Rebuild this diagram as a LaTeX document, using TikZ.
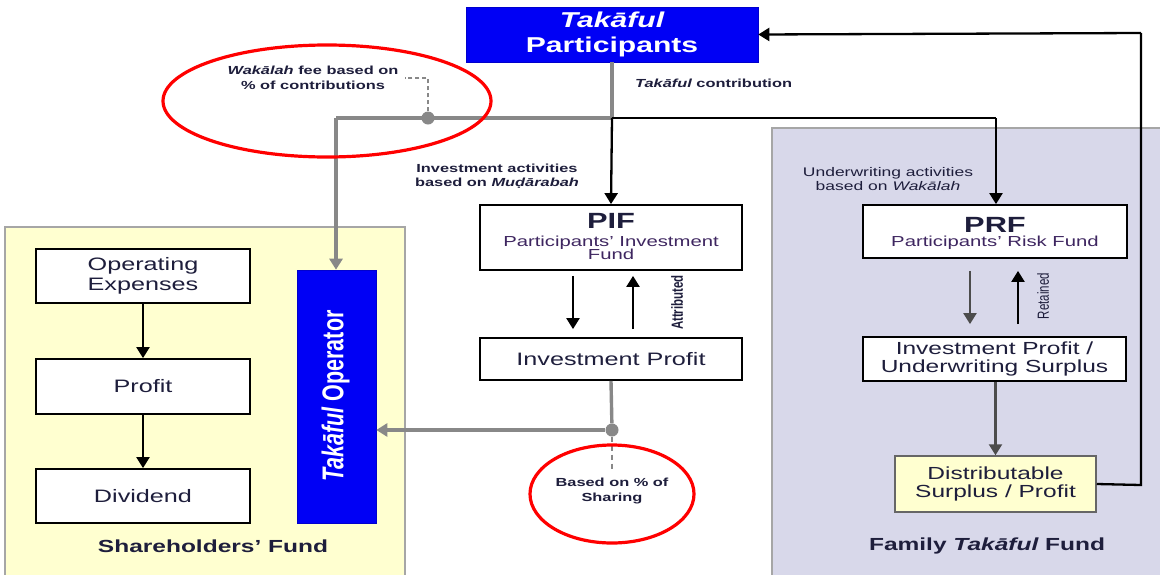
\documentclass[tikz,border=0pt]{standalone}
\usepackage{fontspec}
\setmainfont{Liberation Sans}
\usepackage{graphicx}
\usetikzlibrary{arrows.meta,calc}
\definecolor{opblue}{RGB}{0,0,245}
\definecolor{shyellow}{RGB}{255,255,208}
\definecolor{famlav}{RGB}{216,216,234}
\definecolor{linegray}{RGB}{136,136,136}
\definecolor{txt}{RGB}{30,30,60}
\definecolor{subtxt}{RGB}{62,38,96}
\newcommand\sx[1]{\scalebox{1.4}[1]{#1}}
\newcommand\sy[1]{\scalebox{1}[1.4]{#1}}
\tikzset{
  box/.style={draw=black, line width=1.8pt, fill=white, inner sep=0pt, align=center,
    font=\fontsize{18}{21}\selectfont, text=txt},
  bluebox/.style={fill=opblue, draw=blue!80!black, line width=0.6pt, inner sep=0pt,
    text=white, align=center},
  blk/.style={line width=2.3pt, draw=black},
  gry/.style={line width=3.4pt, draw=linegray},
  arr/.style={-{Triangle[length=11pt,width=13pt]}},
  lbl/.style={font=\fontsize{11.7}{14.5}\selectfont\bfseries, text=txt, align=center, inner sep=0pt},
  fundlbl/.style={font=\fontsize{17.5}{20}\selectfont\bfseries, text=txt, inner sep=0pt},
  redring/.style={draw=red, line width=3.2pt},
  dot/.style={circle, fill=linegray, inner sep=0pt, minimum size=13pt},
  plain/.style={inner sep=0pt, text=txt}
}
\begin{document}
\begin{tikzpicture}[x=1pt,y=-1pt]
\useasboundingbox (0,0) rectangle (1160,574);
\fill[white] (0,0) rectangle (1160,574);
% regions
\draw[draw=gray!70, fill=shyellow, line width=1.8pt] (5,227) rectangle (405,585);
\draw[draw=gray!70, fill=famlav, line width=1.8pt] (772,128) rectangle (1172,585);

% main boxes
\node[bluebox, minimum width=292pt, minimum height=55pt, font=\fontsize{21.5}{25}\selectfont\bfseries]
  (tp) at (612,34.5) {\sx{\itshape Takāful}\\\sx{Participants}};
\node[box, minimum width=262pt, minimum height=65pt] (pif) at (611,237.5) {};
\node[plain, anchor=base, font=\fontsize{22}{24}\selectfont\bfseries] (piftitle) at (611,228) {\sx{PIF}};
\node[plain, anchor=base, text=subtxt, font=\fontsize{14.5}{16}\selectfont] (pifsub) at (611,246.5) {\sx{Participants' Investment}};
\node[plain, anchor=base, text=subtxt, font=\fontsize{14.5}{16}\selectfont] (pifsub2) at (611,259) {\sx{Fund}};
\node[box, minimum width=262pt, minimum height=42pt] (ip) at (611,359) {\sx{Investment Profit}};

\node[box, minimum width=264pt, minimum height=53pt] (prf) at (995,231.5) {};
\node[plain, anchor=base, font=\fontsize{22}{24}\selectfont\bfseries] (prftitle) at (995,232) {\sx{PRF}};
\node[plain, anchor=base, text=subtxt, font=\fontsize{14.5}{16}\selectfont] (prfsub) at (995,246.5) {\sx{Participants' Risk Fund}};
\node[box, minimum width=263pt, minimum height=44pt, font=\fontsize{17.5}{18.5}\selectfont] (ipus) at (994.5,359) {\sx{Investment Profit /}\\\sx{Underwriting Surplus}};
\node[box, fill=shyellow, draw=gray!80!black, line width=1.5pt, minimum width=201pt, minimum height=56pt, font=\fontsize{17.5}{18.5}\selectfont] (dist) at (995.5,484) {\sx{Distributable}\\\sx{Surplus / Profit}};

\node[box, minimum width=214pt, minimum height=54pt, font=\fontsize{18}{20.5}\selectfont] (opex) at (143,276) {\sx{Operating}\\\sx{Expenses}};
\node[box, minimum width=214pt, minimum height=55pt] (prof) at (143,386.5) {\sx{Profit}};
\node[box, minimum width=214pt, minimum height=54pt] (divd) at (143,496) {\sx{Dividend}};

\node[bluebox, minimum width=79pt, minimum height=253pt] (op) at (336.5,396.5) {};
\node[rotate=90, inner sep=0pt, text=white, font=\fontsize{21.5}{24}\selectfont\bfseries] (optext) at (335.5,396) {\sy{\itshape Takāful\upshape\ Operator}};

% coordinates
\coordinate (j1) at (612,118);
\coordinate (jl) at (336,118);
\coordinate (jr) at (996,118);
\coordinate (dtop) at (428,78);
\coordinate (dleft) at (405,78);
\coordinate (d2down) at (612,470);
\coordinate (rc1) at (1141,485);
\coordinate (rc2) at (1141,33);
\node[dot] (d1) at (428,118) {};
\node[dot] (d2) at (612,430) {};

% connectors
\draw[gry] (tp.south) -- (j1);
\draw[gry] (j1) -- (jl);
\draw[gry, arr] (jl) -- (op.north -| jl);
\draw[blk, arr] (j1) -- (pif.north);
\draw[blk] (j1) -- (jr);
\draw[blk, arr] (jr) -- (prf.north -| jr);
\draw[linegray, line width=1.8pt, dash pattern=on 4pt off 3pt] (d1) -- (dtop) -- (dleft);

\draw[blk, arr, shorten <=5pt, shorten >=8pt] (pif.south -| 573,0) -- (ip.north -| 573,0);
\draw[blk, arr, shorten <=8pt, shorten >=5pt] (ip.north -| 633,0) -- (pif.south -| 633,0);
\draw[gry] (ip.south) -- (d2);
\draw[gry, arr] (d2) -- (op.east |- d2);
\draw[linegray, line width=1.8pt, dash pattern=on 5pt off 4pt] (d2) -- (d2down);

\draw[line width=2.3pt, draw=black!70, arr, shorten <=12pt, shorten >=12pt] (prf.south -| 970,0) -- (ipus.north -| 970,0);
\draw[blk, arr, shorten <=12pt, shorten >=12pt] (ipus.north -| 1018,0) -- (prf.south -| 1018,0);
\draw[line width=2.3pt, draw=black!70, arr] (ipus.south -| dist.north) -- (dist.north);
\draw[blk] (dist.east) -- (rc1) -- (rc2);
\draw[blk, arr] (rc2) -- (tp.east);

\draw[blk, arr] (opex.south) -- (prof.north);
\draw[blk, arr] (prof.south) -- (divd.north);

% labels
\node[lbl] (wak) at (313,78) {\sx{\itshape Wakālah\upshape\ fee based on}\\\sx{\% of contributions}};
\node[lbl, anchor=west] (tc) at (635,83) {\sx{\itshape Takāful\upshape\ contribution}};
\node[lbl] (invact) at (497,176) {\sx{Investment activities}\\\sx{based on \itshape Muḍārabah}};
\node[lbl, font=\fontsize{12.5}{14.5}\selectfont] (uwact) at (888,179) {\sx{Underwriting activities}\\\sx{based on \itshape Wakālah}};
\node[lbl] (share) at (612,491) {\sx{Based on \% of}\\\sx{Sharing}};
\node[lbl, rotate=90, font=\fontsize{11.5}{13}\selectfont\bfseries] (attr) at (677,302.5) {\sy{Attributed}};
\node[lbl, rotate=90, font=\fontsize{11.5}{13}\selectfont] (ret) at (1043,296) {\sy{Retained}};
\node[fundlbl] (shf) at (213,546) {\sx{Shareholders' Fund}};
\node[fundlbl] (fam) at (987,546) {\sx{Family \itshape Takāful\upshape\ Fund}};

% red highlight rings
\draw[redring] (327,101) ellipse [x radius=164pt, y radius=56pt];
\draw[redring] (612,494) ellipse [x radius=82pt, y radius=49pt];
\end{tikzpicture}
\end{document}
